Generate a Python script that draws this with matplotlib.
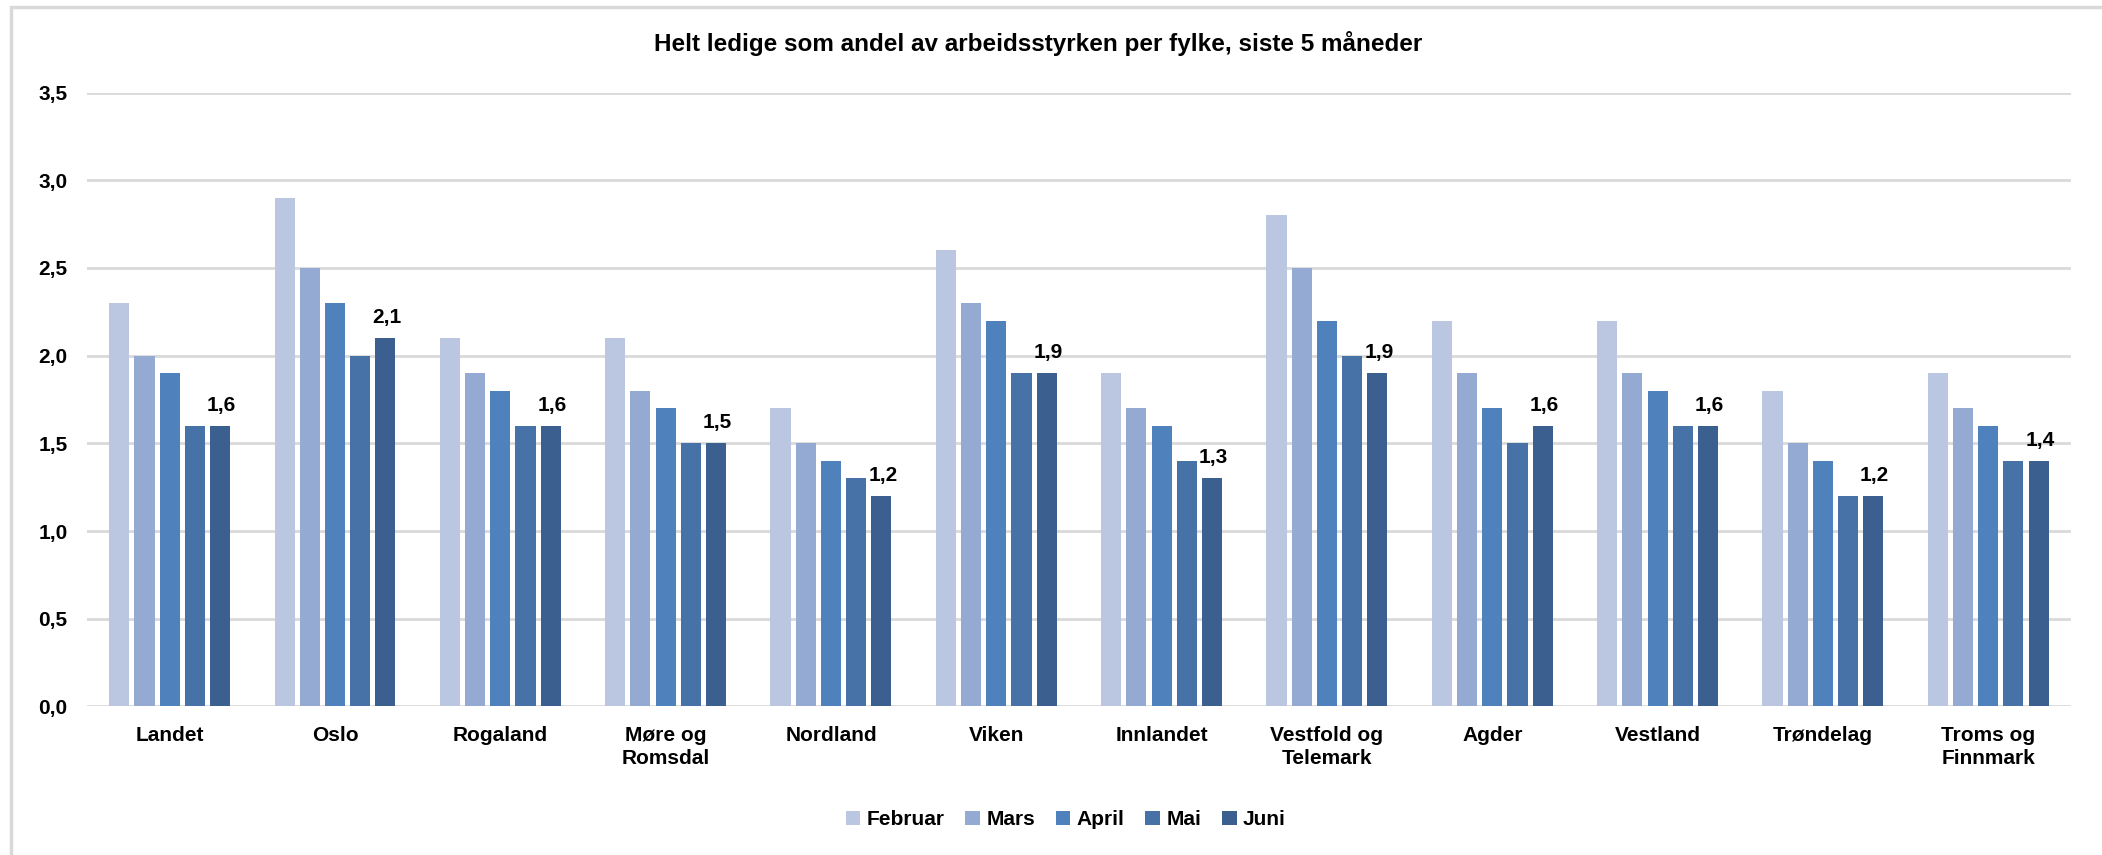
import numpy as np
import matplotlib.pyplot as plt
from matplotlib.patches import Rectangle

# --- Data ---
fylker = ["Landet", "Oslo", "Rogaland", "Møre og\nRomsdal", "Nordland", "Viken",
          "Innlandet", "Vestfold og\nTelemark", "Agder", "Vestland", "Trøndelag",
          "Troms og\nFinnmark"]
maaneder = ["Februar", "Mars", "April", "Mai", "Juni"]

februar = [2.3, 2.9, 2.1, 2.1, 1.7, 2.6, 1.9, 2.8, 2.2, 2.2, 1.8, 1.9]
mars = [2.0, 2.5, 1.9, 1.8, 1.5, 2.3, 1.7, 2.5, 1.9, 1.9, 1.5, 1.7]
april = [1.9, 2.3, 1.8, 1.7, 1.4, 2.2, 1.6, 2.2, 1.7, 1.8, 1.4, 1.6]
mai = [1.6, 2.0, 1.6, 1.5, 1.3, 1.9, 1.4, 2.0, 1.5, 1.6, 1.2, 1.4]
juni = [1.6, 2.1, 1.6, 1.5, 1.2, 1.9, 1.3, 1.9, 1.6, 1.6, 1.2, 1.4]

serier = [februar, mars, april, mai, juni]
farger = ["#BBC7E0", "#95AAD2", "#4F81BD", "#4672A8", "#3B5F8F"]

plt.rcParams["font.family"] = ["Liberation Sans", "DejaVu Sans"]
plt.rcParams["font.weight"] = "bold"

fig = plt.figure(figsize=(21.02, 8.55), dpi=100)
ax = fig.add_axes([0.0414, 0.1737, 0.9438, 0.7181])

x = np.arange(len(fylker))
step = 0.1525
width = 0.1216

for i, (vals, navn, farge) in enumerate(zip(serier, maaneder, farger)):
    bars = ax.bar(x + (i - 2) * step, vals, width, color=farge, label=navn, zorder=3)
    if navn == "Juni":
        # only the last month gets value labels
        for b, v in zip(bars, vals):
            ax.annotate(f"{v:.1f}".replace(".", ","),
                        (b.get_x() + b.get_width() / 2, v),
                        xytext=(1, 8), textcoords="offset points",
                        ha="center", va="bottom", fontsize=15, fontweight="bold")

ax.set_ylim(0, 3.5)
ax.set_xlim(-0.5, len(fylker) - 0.5)
yt = np.arange(0, 3.51, 0.5)
ax.set_yticks(yt)
ax.set_yticklabels([f"{v:.1f}".replace(".", ",") for v in yt], fontsize=15, fontweight="bold")
ax.set_xticks(x)
ax.set_xticklabels(fylker, fontsize=15, fontweight="bold", linespacing=1.3)
ax.tick_params(axis="both", length=0)
ax.tick_params(axis="y", pad=14)
ax.tick_params(axis="x", pad=14)

ax.grid(axis="y", color="#D9D9D9", linewidth=2, zorder=0)
for s in ax.spines.values():
    s.set_visible(False)

fig.text(0.494, 0.949, "Helt ledige som andel av arbeidsstyrken per fylke, siste 5 måneder",
         ha="center", va="center", fontsize=17.5, fontweight="bold")

ax.legend(loc="center", bbox_to_anchor=(0.507, 0.041), bbox_transform=fig.transFigure,
          ncol=5, frameon=False, fontsize=15, handlelength=0.7, handleheight=0.7,
          handletextpad=0.3, columnspacing=1.0)

# outer chart border
fig.patches.append(Rectangle((11 / 2102, -0.05), 1.1, 1.05 - 7 / 855,
                             transform=fig.transFigure, fill=False,
                             edgecolor="#D9D9D9", linewidth=2.5))

fig.savefig("out.png", dpi=100)
